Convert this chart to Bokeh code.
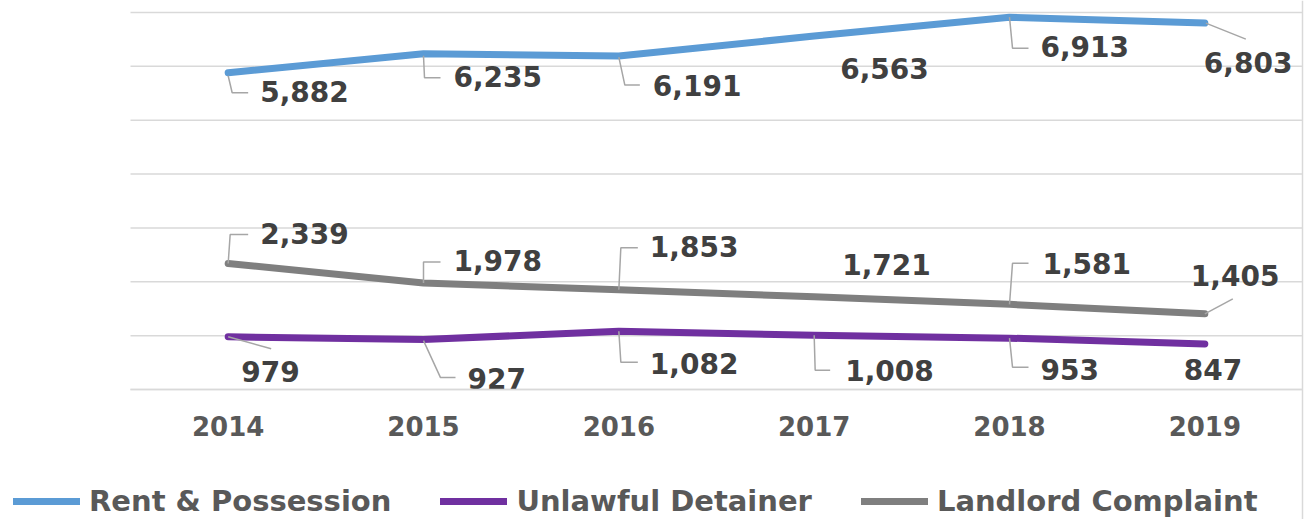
from bokeh.plotting import figure
from bokeh.models import Range1d, FixedTicker, Legend, LegendItem, Span
from bokeh.core.properties import value
from bokeh.embed import file_html
from bokeh.resources import INLINE

# ---------------- data ----------------
years = ["2014", "2015", "2016", "2017", "2018", "2019"]
rent = [5882, 6235, 6191, 6563, 6913, 6803]
unlawful = [979, 927, 1082, 1008, 953, 847]
landlord = [2339, 1978, 1853, 1721, 1581, 1405]
names = ["Rent & Possession", "Unlawful Detainer", "Landlord Complaint"]
y_max = 7000
y_step = 1000

# ---------------- styling / layout ----------------
colors = ["#5B9BD5", "#7030A0", "#7F7F7F"]
W, H = 1307, 519
PLOT_L, PLOT_R, PLOT_T, PLOT_B = 130, 1302, 12, 389   # plot area in px

# data-label offsets in screen px (dx right, dy down) from their point
rent_lbl = [(32, 21), (30, 25), (34, 31), (26, 34), (31, 31), (-1, 41)]
unl_lbl = [(13, 37), (44, 41), (31, 34), (31, 37), (31, 33), (-21, 28)]
land_lbl = [(32, -28), (30, -20), (31, -41), (28, -30), (33, -39), (-14, -36)]

# leader-line polylines in screen px relative to their point
rent_lead = [[(0, 3), (4, 20), (20, 20)], [(0, 2), (1, 24), (17, 24)],
             [(0, 1), (6, 29), (21, 29)], None,
             [(0, 0), (3, 31), (19, 31)], [(1, 0), (41, 16)]]
unl_lead = [[(0, 0), (43, 12)], [(0, 1), (17, 38), (32, 38)],
            [(0, 0), (2, 31), (19, 31)], [(0, 0), (1, 35), (16, 35)],
            [(0, 0), (3, 29), (19, 29)], None]
land_lead = [[(0, 0), (2, -29), (20, -29)], [(0, 0), (0, -21), (17, -21)],
             [(0, 0), (2, -42), (19, -42)], None,
             [(0, 0), (3, -41), (19, -41)], [(0, 0), (28, -15)]]

n = len(years)
xs_idx = list(range(n))
sx = (PLOT_R - PLOT_L) / n
sy = (PLOT_B - PLOT_T) / y_max
x_lo, x_hi = -0.5 - PLOT_L / sx, n - 0.5 + (W - PLOT_R) / sx
y_lo, y_hi = -(H - PLOT_B) / sy, y_max + PLOT_T / sy

p = figure(width=W, height=H,
           x_range=Range1d(x_lo, x_hi), y_range=Range1d(y_lo, y_hi),
           output_backend="svg", toolbar_location=None,
           y_axis_location=None,
           min_border_left=0, min_border_right=0,
           min_border_top=0, min_border_bottom=0)
p.outline_line_color = None
p.background_fill_color = "white"
p.border_fill_color = "white"
p.grid.visible = False

# horizontal gridlines across the plot area only
gticks = list(range(0, y_max + 1, y_step))
p.segment(x0=[-0.5] * len(gticks), x1=[n - 0.5] * len(gticks), y0=gticks, y1=gticks,
          line_color="#D9D9D9", line_width=1.5)

ax = p.xaxis[0]
ax.fixed_location = 0
ax.bounds = (-0.5, n - 0.5)
ax.ticker = FixedTicker(ticks=xs_idx)
ax.major_label_overrides = {i: years[i] for i in xs_idx}
ax.axis_line_color = "#D9D9D9"
ax.axis_line_width = 1.5
ax.major_tick_line_color = None
ax.minor_tick_line_color = None
ax.major_label_text_font = "DejaVu Sans"
ax.major_label_text_font_style = "bold"
ax.major_label_text_font_size = "26px"
ax.major_label_text_color = "#595959"
ax.major_label_standoff = 20

p.add_layout(Span(location=n - 0.5, dimension="height",
                  line_color="#D9D9D9", line_width=1.5))

series = [rent, unlawful, landlord]
labels = [rent_lbl, unl_lbl, land_lbl]
leads = [rent_lead, unl_lead, land_lead]

renderers = []
for vals, col in zip(series, colors):
    r = p.line(xs_idx, vals, line_color=col, line_width=7,
               line_cap="round", line_join="round")
    renderers.append(r)

for vals, lead in zip(series, leads):
    lx, ly = [], []
    for i, (v, pts) in enumerate(zip(vals, lead)):
        if pts is None:
            continue
        lx.append([i + dx / sx for dx, dy in pts])
        ly.append([v - dy / sy for dx, dy in pts])
    p.multi_line(lx, ly, line_color="#A6A6A6", line_width=1.5)

for vals, offs in zip(series, labels):
    tx = [i + dx / sx for i, (dx, dy) in enumerate(offs)]
    ty = [v - (dy - 2) / sy for v, (dx, dy) in zip(vals, offs)]
    tt = [f"{v:,}" for v in vals]
    p.text(tx, ty, text=tt, text_font=value("DejaVu Sans"),
           text_font_style="bold", text_font_size="28px",
           text_color="#404040", text_align="left", text_baseline="middle")

legend = Legend(items=[LegendItem(label=nm, renderers=[r]) for nm, r in zip(names, renderers)],
                orientation="horizontal", location=(13, 1),
                glyph_width=67, glyph_height=30, label_standoff=9, spacing=49,
                padding=0, margin=0, border_line_color=None,
                background_fill_alpha=0,
                label_text_font="DejaVu Sans", label_text_font_style="bold",
                label_text_font_size="29px", label_text_color="#595959")
p.add_layout(legend, "center")

open("out.html", "w").write(file_html(p, INLINE))
